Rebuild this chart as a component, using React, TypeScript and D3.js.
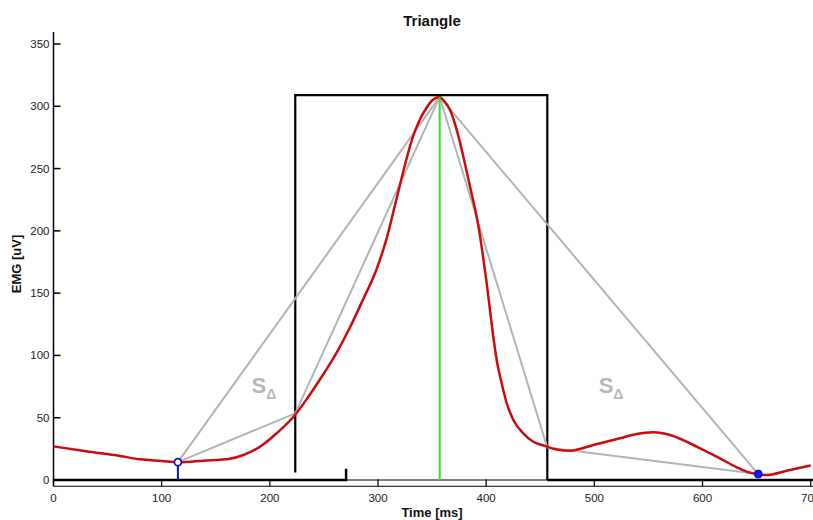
import React from "react";
import * as d3 from "d3";

const W = 813;
const H = 520;

// EMG envelope (red)
const emgTime = [0, 30, 61.5, 80, 100, 115.4, 138.5, 163.2, 175.5, 190.9, 206.3, 223.3, 236.7, 249, 261.4, 273.7, 286, 298.4, 307.6, 316.9, 326.1, 332.3, 338.4, 344.6, 350.5, 356.9, 360.4, 366.6, 372.8, 378.9, 385.1, 391.2, 394.3, 397.3, 400.5, 403.5, 406.6, 409.7, 414.3, 419, 425.1, 434.3, 443.6, 454.4, 465, 477.5, 499, 523.7, 539.2, 554.5, 570, 585.4, 600.7, 616.1, 631.6, 640.8, 651.6, 659.3, 677.8, 700];
const emgValue = [27, 23, 19.3, 16.6, 15.3, 14.2, 15.5, 17.1, 20.1, 26.7, 37.5, 52.2, 68.2, 84.3, 101.7, 121.8, 144.5, 168.6, 192.7, 224.8, 256.9, 275.6, 288.8, 298.4, 305, 307.5, 305, 297, 281, 259.5, 235.4, 211.4, 196, 178, 157.9, 136.5, 115, 96.3, 77.6, 61.6, 48.2, 37.5, 30.7, 27.3, 24.5, 23.5, 28.1, 33.5, 36.9, 38.3, 36.1, 30.7, 24.1, 17.4, 10.2, 6.7, 4.6, 4.0, 7.5, 11.6];

// triangle vertices: onset, window start, peak, window end, offset
const vertexNames = ["A", "B", "P", "C", "D"];
const vertexTime = [115, 223.5, 357, 456.5, 651.5];
const vertexValue = [14.3, 53.5, 307.5, 26, 4.8];
const triangleEdges = [["A", "P"], ["A", "B"], ["B", "P"], ["P", "C"], ["C", "D"], ["P", "D"]];

// analysis window (black rectangle)
const windowStart = 223.5;
const windowEnd = 456.5;
const windowTop = 309;
const windowLeftBottom = 6;
const onsetMarkTime = 270.5;
const onsetMarkHeight = 9;

const xTicks = [0, 100, 200, 300, 400, 500, 600, 700];
const yTicks = [0, 50, 100, 150, 200, 250, 300, 350];

const labelTime = [183, 504];
const labelValue = [70, 69.5];

export default function App() {
  const x = d3.scaleLinear().domain([0, 700]).range([53.5, 810.7]);
  const y = d3.scaleLinear().domain([0, 350]).range([480, 44]);
  const pts = emgTime.map((t, i) => [t, emgValue[i]] as [number, number]);
  const line = d3
    .line<[number, number]>()
    .x((d) => x(d[0]))
    .y((d) => y(d[1]))
    .curve(d3.curveMonotoneX);
  const v: Record<string, [number, number]> = {};
  vertexNames.forEach((n, i) => (v[n] = [x(vertexTime[i]), y(vertexValue[i])]));
  const axisBottom = y(-5);
  const axisTop = y(359.6);
  const font = "Arial, 'Liberation Sans', sans-serif";
  const gray = "#b4b4b4";

  return (
    <div style={{ position: "fixed", left: 0, top: 0 }}>
      <svg width={W} height={H} style={{ display: "block", background: "#fff" }} fontFamily={font}>
        {/* title */}
        <text x={432} y={26} textAnchor="middle" fontWeight="bold" fontSize={15} fill="#111">
          Triangle
        </text>
        {/* y axis */}
        <line x1={x(0)} x2={x(0)} y1={axisTop} y2={axisBottom} stroke="#000" strokeWidth={1.5} />
        {yTicks.map((t) => (
          <g key={"y" + t}>
            <line x1={x(0)} x2={x(0) + 7} y1={y(t)} y2={y(t)} stroke="#000" strokeWidth={1.5} />
            <text x={x(0) - 4} y={y(t) + 4} textAnchor="end" fontSize={11.5} fill="#222">
              {t}
            </text>
          </g>
        ))}
        {/* x axis */}
        <line x1={x(0)} x2={W} y1={axisBottom} y2={axisBottom} stroke="#000" strokeWidth={1.2} />
        <line x1={x(0)} x2={W} y1={y(0)} y2={y(0)} stroke="#000" strokeWidth={1.2} />
        {xTicks.map((t) => (
          <g key={"x" + t}>
            <line x1={x(t)} x2={x(t)} y1={axisBottom} y2={axisBottom - 7} stroke="#000" strokeWidth={1.2} />
            <text x={x(t)} y={502} textAnchor="middle" fontSize={11.5} fill="#222">
              {t}
            </text>
          </g>
        ))}
        <text x={432} y={517} textAnchor="middle" fontWeight="bold" fontSize={13} fill="#111">
          Time [ms]
        </text>
        <text
          transform={`translate(21,264) rotate(-90)`}
          textAnchor="middle"
          fontWeight="bold"
          fontSize={13}
          fill="#111"
        >
          EMG [uV]
        </text>
        {/* baseline segments */}
        <path
          d={`M${x(0)},${y(0)}L${x(onsetMarkTime)},${y(0)}L${x(onsetMarkTime)},${y(onsetMarkHeight)}`}
          fill="none"
          stroke="#000"
          strokeWidth={2.5}
        />
        <line x1={x(windowEnd)} x2={W} y1={y(0)} y2={y(0)} stroke="#000" strokeWidth={2.5} />
        {/* window rectangle */}
        <path
          d={`M${x(windowStart)},${y(windowLeftBottom)}L${x(windowStart)},${y(windowTop)}L${x(windowEnd)},${y(windowTop)}L${x(windowEnd)},${y(0)}`}
          fill="none"
          stroke="#000"
          strokeWidth={2.2}
        />
        {/* triangle edges */}
        {triangleEdges.map(([a, b]) => (
          <line
            key={a + b}
            x1={v[a][0]}
            y1={v[a][1]}
            x2={v[b][0]}
            y2={v[b][1]}
            stroke={gray}
            strokeWidth={2}
          />
        ))}
        {/* EMG curve */}
        <path d={line(pts) || ""} fill="none" stroke="#cc0c0c" strokeWidth={2.5} />
        {/* peak */}
        <line x1={v.P[0]} x2={v.P[0]} y1={v.P[1]} y2={y(0)} stroke="#33dd33" strokeWidth={2} />
        {/* onset / offset markers */}
        <line x1={v.A[0]} x2={v.A[0]} y1={v.A[1]} y2={y(0)} stroke="#1010c0" strokeWidth={2} />
        <circle cx={v.A[0]} cy={v.A[1]} r={3.5} fill="#fff" stroke="#1010c0" strokeWidth={1.8} />
        <circle cx={v.D[0]} cy={v.D[1]} r={4} fill="#1a1ad0" stroke="#1010c0" strokeWidth={1} />
        {/* S-delta labels */}
        {labelTime.map((t, i) => (
          <text key={"s" + i} x={x(t)} y={y(labelValue[i])} fontSize={22} fontWeight="bold" fill="#b8b8b8">
            S
            <tspan fontSize={14} dy={6}>
              Δ
            </tspan>
          </text>
        ))}
      </svg>
    </div>
  );
}
